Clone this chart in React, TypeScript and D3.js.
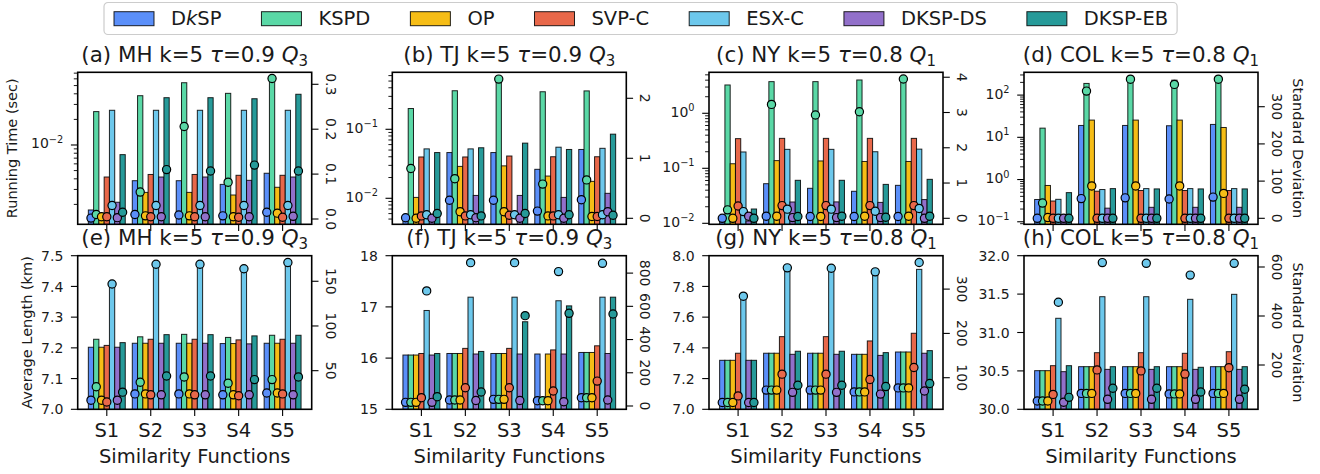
import React from "react";
import * as d3 from "d3";

const CATEGORIES = ["S1", "S2", "S3", "S4", "S5"];
const SERIES = ["DkSP", "KSPD", "OP", "SVP-C", "ESX-C", "DKSP-DS", "DKSP-EB"];
const COLORS = ["#5B8FF9", "#5AD8A6", "#F6BD16", "#E8684A", "#6DC8EC", "#9270CA", "#269A99"];

// rows = series (SERIES order), columns = S1..S5
const MH_TIME = [
  [1.72e-3, 3.8e-3, 3.8e-3, 3.44e-3, 4.65e-3],
  [2.47e-2, 3.8e-2, 5.4e-2, 4.05e-2, 5.97e-2],
  [1.57e-3, 2.77e-3, 2.77e-3, 2.58e-3, 3.18e-3],
  [4.2e-3, 4.5e-3, 4.5e-3, 4.4e-3, 4.4e-3],
  [2.56e-2, 2.56e-2, 2.56e-2, 2.56e-2, 2.56e-2],
  [2.12e-3, 4.2e-3, 4.2e-3, 3.84e-3, 4.2e-3],
  [7.7e-3, 3.6e-2, 3.6e-2, 3.5e-2, 3.95e-2],
];
const MH_TIME_SD = [
  [0.002, 0.01, 0.009, 0.007, 0.015],
  [0.01, 0.06, 0.206, 0.082, 0.313],
  [0.005, 0.007, 0.007, 0.005, 0.013],
  [0.005, 0.005, 0.005, 0.004, 0.004],
  [0.03, 0.03, 0.03, 0.03, 0.03],
  [0.003, 0.005, 0.005, 0.005, 0.006],
  [0.015, 0.11, 0.107, 0.12, 0.107],
];
const TJ_TIME = [
  [4.8e-3, 4.6e-2, 4.6e-2, 2.63e-2, 5.1e-2],
  [0.2, 0.362, 0.52, 0.35, 0.36],
  [1.03e-2, 2.9e-2, 2.95e-2, 2.1e-2, 1.76e-2],
  [3.97e-2, 3.97e-2, 4.1e-2, 4.0e-2, 4.0e-2],
  [5.2e-2, 5.2e-2, null, 5.5e-2, 5.3e-2],
  [4.8e-3, 1.1e-2, 1.1e-2, 1.03e-2, 1.18e-2],
  [4.6e-2, 5.4e-2, 6.3e-2, 5.1e-2, 8.5e-2],
];
const TJ_TIME_SD = [
  [0.01, 0.3, 0.3, 0.12, 0.31],
  [0.83, 0.66, 2.32, 0.57, 0.64],
  [0.0, 0.11, 0.11, 0.04, 0.03],
  [0.04, 0.04, 0.05, 0.04, 0.03],
  [0.06, 0.06, 0.06, 0.06, 0.06],
  [0.0, 0.01, 0.0, 0.0, 0.11],
  [0.08, 0.04, 0.08, 0.06, 0.05],
];
const NY_TIME = [
  [1.1e-2, 5.25e-2, 4.33e-2, 3.82e-2, 4.9e-2],
  [3.27, 3.76, 3.76, 4.03, 4.2],
  [0.121, 0.138, 0.136, 0.133, 0.133],
  [0.346, 0.35, 0.35, 0.35, 0.35],
  [0.198, 0.221, 0.221, 0.2, 0.223],
  [1.1e-2, 2.44e-2, 2.45e-2, 2.4e-2, 2.7e-2],
  [1.82e-2, 6.05e-2, 6.05e-2, 5.1e-2, 6.3e-2],
];
const NY_TIME_SD = [
  [0.0, 0.06, 0.05, 0.05, 0.05],
  [0.24, 3.23, 2.93, 3.02, 3.95],
  [0.0, 0.06, 0.05, 0.06, 0.06],
  [0.35, 0.36, 0.36, 0.36, 0.36],
  [0.19, 0.26, 0.26, 0.2, 0.28],
  [0.06, 0.02, 0.02, 0.02, 0.0],
  [0.0, 0.05, 0.06, 0.03, 0.06],
];
const COL_TIME = [
  [0.337, 19.1, 19.1, 18.8, 20.2],
  [16.5, 189, 239, 226, 239],
  [0.724, 25.6, 25.6, 25.6, 17.1],
  [0.31, 0.53, 0.55, 0.55, 0.55],
  [0.34, 0.58, 0.61, 0.61, 0.61],
  [0.12, 0.21, 0.22, 0.22, 0.22],
  [0.49, 0.61, 0.6, 0.6, 0.6],
];
const COL_TIME_SD = [
  [0, 53, 55, 52, 57],
  [41, 342, 374, 360, 374],
  [2, 87, 87, 87, 67],
  [0, 0, 0, 0, 0],
  [0, 0, 0, 0, 0],
  [0, 0, 0, 0, 0],
  [0, 0, 0, 0, 0],
];
const MH_LEN = [
  [7.202, 7.215, 7.215, 7.214, 7.215],
  [7.228, 7.236, 7.244, 7.234, 7.241],
  [7.202, 7.215, 7.215, 7.214, 7.215],
  [7.208, 7.228, 7.228, 7.226, 7.228],
  [7.4, 7.465, 7.465, 7.45, 7.465],
  [7.202, 7.215, 7.215, 7.213, 7.215],
  [7.217, 7.243, 7.243, 7.239, 7.241],
];
const MH_LEN_SD = [
  [17, 24, 24, 23, 25],
  [32, 37, 43, 36, 40],
  [17, 24, 24, 23, 25],
  [15, 23, 23, 22, 24],
  [147, 169, 169, 164, 171],
  [17, 23, 23, 23, 23],
  [26, 44, 44, 40, 43],
];
const TJ_LEN = [
  [16.06, 16.09, 16.09, 16.08, 16.11],
  [16.06, 16.09, 16.09, null, 16.11],
  [16.06, 16.09, 16.09, 16.08, 16.11],
  [16.09, 16.19, 16.19, 16.16, 16.24],
  [16.93, 17.19, 17.19, 17.12, 17.19],
  [16.06, 16.08, 16.08, 16.08, 16.09],
  [16.09, 16.13, 16.71, 17.02, 17.19],
];
const TJ_LEN_SD = [
  [22, 36, 40, 32, 50],
  [22, 36, 40, 32, 50],
  [22, 36, 40, 32, 50],
  [50, 110, 110, 90, 150],
  [693, 863, 863, 809, 859],
  [22, 33, 33, 26, 36],
  [56, 84, 544, 558, 554],
];
const NY_LEN = [
  [7.319, 7.365, 7.365, 7.358, 7.373],
  [7.319, 7.365, 7.365, 7.358, 7.373],
  [7.319, 7.365, 7.365, 7.358, 7.373],
  [7.365, 7.473, 7.473, 7.445, 7.495],
  [7.72, 7.907, 7.907, 7.874, 7.911],
  [7.319, 7.358, 7.358, 7.351, 7.365],
  [7.319, 7.378, 7.378, 7.369, 7.382],
];
const NY_LEN_SD = [
  [44, 72, 72, 68, 77],
  [44, 72, 72, 68, 77],
  [44, 72, 72, 68, 77],
  [59, 108, 108, 96, 123],
  [284, 348, 347, 339, 360],
  [44, 67, 67, 63, 70],
  [44, 83, 83, 80, 87],
];
const COL_LEN = [
  [30.503, 30.555, 30.555, 30.555, 30.555],
  [30.503, 30.555, 30.555, 30.555, 30.555],
  [30.503, 30.555, 30.555, 30.555, 30.555],
  [30.568, 30.737, 30.737, 30.729, 30.75],
  [31.185, 31.466, 31.466, 31.432, 31.497],
  [30.49, 30.52, 30.52, 30.52, 30.52],
  [30.568, 30.555, 30.555, 30.547, 30.555],
];
const COL_LEN_SD = [
  [53, 84, 84, 82, 84],
  [53, 84, 84, 82, 84],
  [53, 84, 84, 82, 84],
  [80, 180, 176, 163, 189],
  [456, 618, 615, 567, 615],
  [48, 60, 60, 60, 60],
  [68, 105, 105, 90, 101],
];

const FONT = "'DejaVu Sans', Verdana, sans-serif";
const FS_TICK = 14;
const FS_LABEL = 14.5;
const FS_BIG = 19.5;
const FS_TITLE = 21.4;
const TICK = 6.8;
const MINOR = 3.9;

type Cfg = {
  letter: string; city: string; tau: string; q: string;
  bars: (number | null)[][]; sd: number[][];
  log?: [number, number]; lin?: [number, number]; linTicks?: number[]; linFmt?: string;
  rDomain: [number, number]; rTicks: number[]; rFmt: string;
};

const PANELS: Cfg[] = [
  { letter: "a", city: "MH", tau: "0.9", q: "3", bars: MH_TIME, sd: MH_TIME_SD, log: [-2.933, -1.145], rDomain: [-0.0118, 0.3267], rTicks: [0, 0.1, 0.2, 0.3], rFmt: ".1f" },
  { letter: "b", city: "TJ", tau: "0.9", q: "3", bars: TJ_TIME, sd: TJ_TIME_SD, log: [-2.377, -0.174], rDomain: [-0.1, 2.433], rTicks: [0, 1, 2], rFmt: "d" },
  { letter: "c", city: "NY", tau: "0.8", q: "1", bars: NY_TIME, sd: NY_TIME_SD, log: [-2.018, 0.745], rDomain: [-0.17, 4.14], rTicks: [0, 1, 2, 3, 4], rFmt: "d" },
  { letter: "d", city: "COL", tau: "0.8", q: "1", bars: COL_TIME, sd: COL_TIME_SD, log: [-1.06, 2.54], rDomain: [-16.1, 392.5], rTicks: [0, 100, 200, 300], rFmt: "d" },
  { letter: "e", city: "MH", tau: "0.9", q: "3", bars: MH_LEN, sd: MH_LEN_SD, lin: [7.0, 7.5], linTicks: [7.0, 7.1, 7.2, 7.3, 7.4, 7.5], linFmt: ".1f", rDomain: [6.8, 178.6], rTicks: [50, 100, 150], rFmt: "d" },
  { letter: "f", city: "TJ", tau: "0.9", q: "3", bars: TJ_LEN, sd: TJ_LEN_SD, lin: [15, 18], linTicks: [15, 16, 17, 18], linFmt: "d", rDomain: [-19.9, 904.8], rTicks: [0, 200, 400, 600, 800], rFmt: "d" },
  { letter: "g", city: "NY", tau: "0.8", q: "1", bars: NY_LEN, sd: NY_LEN_SD, lin: [7.0, 8.0], linTicks: [7.0, 7.2, 7.4, 7.6, 7.8, 8.0], linFmt: ".1f", rDomain: [28.7, 375.4], rTicks: [100, 200, 300], rFmt: "d" },
  { letter: "h", city: "COL", tau: "0.8", q: "1", bars: COL_LEN, sd: COL_LEN_SD, lin: [30, 32], linTicks: [30.0, 30.5, 31.0, 31.5, 32.0], linFmt: ".1f", rDomain: [19.2, 646.1], rTicks: [200, 400, 600], rFmt: "d" },
];

const COL_X = [77.7, 392.3, 709, 1024];
const PW = 234;
const ROWS = [
  { top: 72.3, bottom: 224.3, title: 61.7 },
  { top: 255.7, bottom: 409.3, title: 245 },
];
const BW = 0.12;

function Panel({ cfg, idx }: { cfg: Cfg; idx: number }) {
  const col = idx % 4;
  const row = Math.floor(idx / 4);
  const x0 = COL_X[col];
  const x1 = x0 + PW;
  const { top, bottom, title } = ROWS[row];
  const nS = SERIES.length;
  const half = (nS / 2) * BW;
  const span = CATEGORIES.length - 1 + 2 * half;
  const m = span * 0.05;
  const xs = d3.scaleLinear().domain([-half - m, CATEGORIES.length - 1 + half + m]).range([x0, x1]);
  const ys: any = cfg.log
    ? d3.scaleLog().domain([Math.pow(10, cfg.log[0]), Math.pow(10, cfg.log[1])]).range([bottom, top])
    : d3.scaleLinear().domain(cfg.lin!).range([bottom, top]);
  const yr = d3.scaleLinear().domain(cfg.rDomain).range([bottom, top]);
  const bwPx = xs(BW) - xs(0);
  const clipId = `clip-${cfg.letter}`;

  const leftMajor: { y: number; label: string; log: boolean }[] = [];
  const leftMinor: number[] = [];
  if (cfg.log) {
    const [lo, hi] = cfg.log;
    for (let n = Math.ceil(lo); n <= Math.floor(hi); n++) {
      leftMajor.push({ y: ys(Math.pow(10, n)), label: n < 0 ? `−${-n}` : `${n}`, log: true });
    }
    for (let n = Math.floor(lo); n <= Math.ceil(hi); n++) {
      for (let k = 2; k <= 9; k++) {
        const lv = Math.log10(k) + n;
        if (lv >= lo && lv <= hi) leftMinor.push(ys(Math.pow(10, lv)));
      }
    }
  } else {
    const f = d3.format(cfg.linFmt!);
    cfg.linTicks!.forEach((t) => leftMajor.push({ y: ys(t), label: f(t), log: false }));
  }
  const rf = d3.format(cfg.rFmt);

  return (
    <g>
      <defs>
        <clipPath id={clipId}>
          <rect x={x0} y={top} width={PW} height={bottom - top} />
        </clipPath>
      </defs>
      <text x={(x0 + x1) / 2} y={title} fontSize={FS_TITLE} textAnchor="middle" fill="#1a1a1a">
        {`(${cfg.letter}) ${cfg.city} k=5 `}
        <tspan fontStyle="italic">τ</tspan>
        {`=${cfg.tau} `}
        <tspan fontStyle="italic">Q</tspan>
        <tspan fontSize={FS_TITLE * 0.7} dy={4}>{cfg.q}</tspan>
      </text>
      <g clipPath={`url(#${clipId})`}>
        {cfg.bars.map((vals, s) =>
          vals.map((v, gi) => {
            if (v == null) return null;
            const cx = gi + (s - (nS - 1) / 2) * BW;
            const y = ys(v);
            return (
              <rect key={`b${s}-${gi}`} x={xs(cx) - bwPx / 2} y={y} width={bwPx} height={bottom - y + 2}
                fill={COLORS[s]} stroke="#000" strokeOpacity={0.85} strokeWidth={1} />
            );
          })
        )}
      </g>
      <g>
        {cfg.sd.map((vals, s) =>
          vals.map((v, gi) => {
            const cx = gi + (s - (nS - 1) / 2) * BW;
            return (
              <circle key={`c${s}-${gi}`} cx={xs(cx)} cy={yr(v)} r={4.1} fill={COLORS[s]} stroke="#000" strokeWidth={1.2} />
            );
          })
        )}
      </g>
      {CATEGORIES.map((c, gi) => (
        <g key={c}>
          <line x1={xs(gi)} x2={xs(gi)} y1={bottom} y2={bottom + TICK} stroke="#000" strokeWidth={1.1} />
          {row === 1 && (
            <text x={xs(gi)} y={436.7} fontSize={FS_BIG} textAnchor="middle" fill="#1a1a1a">{c}</text>
          )}
        </g>
      ))}
      {row === 1 && (
        <text x={(x0 + x1) / 2} y={462.7} fontSize={FS_BIG} textAnchor="middle" fill="#1a1a1a">Similarity Functions</text>
      )}
      {leftMinor.map((y, i) => (
        <line key={`mn${i}`} x1={x0 - MINOR} x2={x0} y1={y} y2={y} stroke="#000" strokeWidth={0.9} />
      ))}
      {leftMajor.map((t, i) => (
        <g key={`mj${i}`}>
          <line x1={x0 - TICK} x2={x0} y1={t.y} y2={t.y} stroke="#000" strokeWidth={1.1} />
          {t.log ? (
            <text x={x0 - 14.4} y={t.y + 3.5} fontSize={FS_TICK} textAnchor="end" fill="#1a1a1a">
              10<tspan fontSize={FS_TICK * 0.7} dy={-5.5}>{t.label}</tspan>
            </text>
          ) : (
            <text x={x0 - 14.4} y={t.y + 5.1} fontSize={FS_TICK} textAnchor="end" fill="#1a1a1a">{t.label}</text>
          )}
        </g>
      ))}
      {cfg.rTicks.map((t, i) => {
        const y = yr(t);
        return (
          <g key={`r${i}`}>
            <line x1={x1} x2={x1 + TICK} y1={y} y2={y} stroke="#000" strokeWidth={1.1} />
            <text transform={`translate(${x1 + 14},${y}) rotate(90)`} fontSize={FS_TICK} textAnchor="middle" fill="#1a1a1a">{rf(t)}</text>
          </g>
        );
      })}
      <rect x={x0} y={top} width={PW} height={bottom - top} fill="none" stroke="#000" strokeWidth={1.6} />
    </g>
  );
}

let _ctx: CanvasRenderingContext2D | null = null;
function measure(text: string, italic = false) {
  if (!_ctx) {
    const c = document.createElement("canvas");
    _ctx = c.getContext("2d");
  }
  if (!_ctx) return text.length * FS_BIG * 0.62;
  _ctx.font = `${italic ? "italic " : ""}${FS_BIG}px 'DejaVu Sans'`;
  return _ctx.measureText(text).width;
}

function Legend() {
  const items: { x: number; s: number }[] = [];
  let x = 114;
  const widths = SERIES.map((s) => (s === "DkSP" ? measure("D") + measure("k", true) + measure("SP") : measure(s)));
  SERIES.forEach((s, i) => {
    items.push({ x, s: i });
    x += 40 + 17 + widths[i] + 40;
  });
  const right = x - 40 + 9;
  return (
    <g>
      <rect x={104} y={2.5} width={right - 104} height={32} rx={4} fill="#fff" fillOpacity={0.8} stroke="#cccccc" strokeWidth={1.2} />
      {items.map((it) => (
        <g key={it.s}>
          <rect x={it.x} y={11.7} width={40} height={14} fill={COLORS[it.s]} stroke="#000" strokeOpacity={0.85} strokeWidth={1} />
          <text x={it.x + 57} y={25.3} fontSize={FS_BIG} fill="#1a1a1a">
            {SERIES[it.s] === "DkSP" ? (
              <>D<tspan fontStyle="italic">k</tspan>SP</>
            ) : (
              SERIES[it.s]
            )}
          </text>
        </g>
      ))}
    </g>
  );
}

export default function App() {
  return (
    <svg width={1320} height={474} viewBox="0 0 1320 474" style={{ position: "absolute", left: 0, top: 0, background: "#fff" }} fontFamily={FONT}>
      <rect x={0} y={0} width={1320} height={474} fill="#fff" />
      {PANELS.map((p, i) => (
        <Panel key={p.letter} cfg={p} idx={i} />
      ))}
      <text transform={`translate(17.3,${(ROWS[0].top + ROWS[0].bottom) / 2}) rotate(-90)`} fontSize={FS_LABEL} textAnchor="middle" fill="#1a1a1a">Running Time (sec)</text>
      <text transform={`translate(31.5,${(ROWS[1].top + ROWS[1].bottom) / 2}) rotate(-90)`} fontSize={FS_LABEL} textAnchor="middle" fill="#1a1a1a">Average Length (km)</text>
      <text transform={`translate(1292.5,${(ROWS[0].top + ROWS[0].bottom) / 2}) rotate(90)`} fontSize={FS_LABEL} textAnchor="middle" fill="#1a1a1a">Standard Deviation</text>
      <text transform={`translate(1292.5,${(ROWS[1].top + ROWS[1].bottom) / 2}) rotate(90)`} fontSize={FS_LABEL} textAnchor="middle" fill="#1a1a1a">Standard Deviation</text>
      <Legend />
    </svg>
  );
}
